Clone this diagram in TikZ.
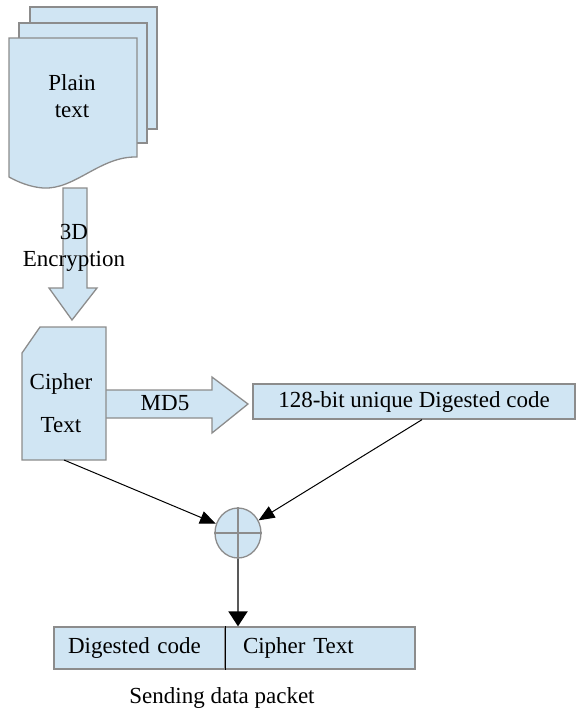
\documentclass[tikz,border=0pt]{standalone}
\usepackage{fontspec}
\setmainfont{Liberation Serif}
\usetikzlibrary{arrows.meta,calc,shapes.geometric}
\definecolor{boxfill}{RGB}{208,229,243}
\definecolor{boxline}{RGB}{140,140,140}
\tikzset{
  shapebox/.style={fill=boxfill,draw=boxline,line width=1.3pt,line join=miter},
  txt/.style={inner sep=0pt,font=\fontsize{23}{27}\selectfont,text=black},
  thinarrow/.style={draw=black,line width=1pt,-{Triangle[length=16pt,width=13pt]}},
  plainbox/.style={inner sep=0pt,outer sep=0pt}
}
\begin{document}
\begin{tikzpicture}[x=1pt,y=-1pt]
\useasboundingbox (0,0) rectangle (579,713);
% stacked pages
\draw[shapebox] (30,7) rectangle (157,129);
\draw[shapebox] (19,23) rectangle (147,143);
\node[plainbox,minimum width=128,minimum height=150] (page) at (73,113) {};
\draw[shapebox] (page.north west) -- (page.north east) -- (137,157)
  .. controls (100,156) and (75,190) .. (43,188)
  .. controls (30,187) and (18,182) .. (9,177) -- cycle;
\node[txt,align=center] (plain) at (72,96) {Plain\\[0pt]text};
% 3D encryption block arrow
\draw[shapebox] (63,188) -- (87,188) -- (87,288) -- (97,288) -- (72,320) -- (49,288) -- (63,288) -- cycle;
\node[txt,align=center] (enc) at (74,248) {3D\\[0pt]Encryption};
% MD5 block arrow
\draw[shapebox] (106,390) -- (212,390) -- (212,377) -- (248,404) -- (212,433) -- (212,418) -- (106,418);
\node[txt] (md5) at (165,403) {MD5};
% cipher text box
\node[plainbox,minimum width=84,minimum height=133] (cipher) at (64,393.5) {};
\draw[shapebox] ($(cipher.north west)+(0,26)$) -- ($(cipher.north west)+(18,0)$) -- (cipher.north east) -- (cipher.south east) -- (cipher.south west) -- cycle;
\node[txt,align=center] (ciphertxt) at (61,403) {Cipher\\[16pt]Text};
% digest box
\node[shapebox,txt,minimum width=322,minimum height=35] (digest) at (414,401.5) {128-bit unique Digested code};
% xor
\node[shapebox,ellipse,minimum width=46,minimum height=50,inner sep=0pt] (xor) at (238,533) {};
\draw[boxline,line width=1.3pt] (xor.north) -- (xor.south) (xor.west) -- (xor.east);
% connectors
\draw[thinarrow] (cipher.south) -- (xor);
\draw[thinarrow] ($(digest.south)+(8,0)$) -- (xor);
% packet
\node[shapebox,txt,minimum height=42,text width=143,inner xsep=14,align=left] (pl) at (139.5,648) {Digested code};
\node[shapebox,txt,minimum height=42,text width=154,inner xsep=18,align=left] (pr) at (320,648) {Cipher Text};
\draw[black,line width=1.3pt] (pl.north east) -- (pl.south east);
\draw[draw=black!65,line width=2pt,-{Triangle[length=15pt,width=19pt,color=black]}] (xor.south) -- (xor.south |- pr.north);
\node[txt] (caption) at (222,698) {Sending data packet};
\end{tikzpicture}
\end{document}
